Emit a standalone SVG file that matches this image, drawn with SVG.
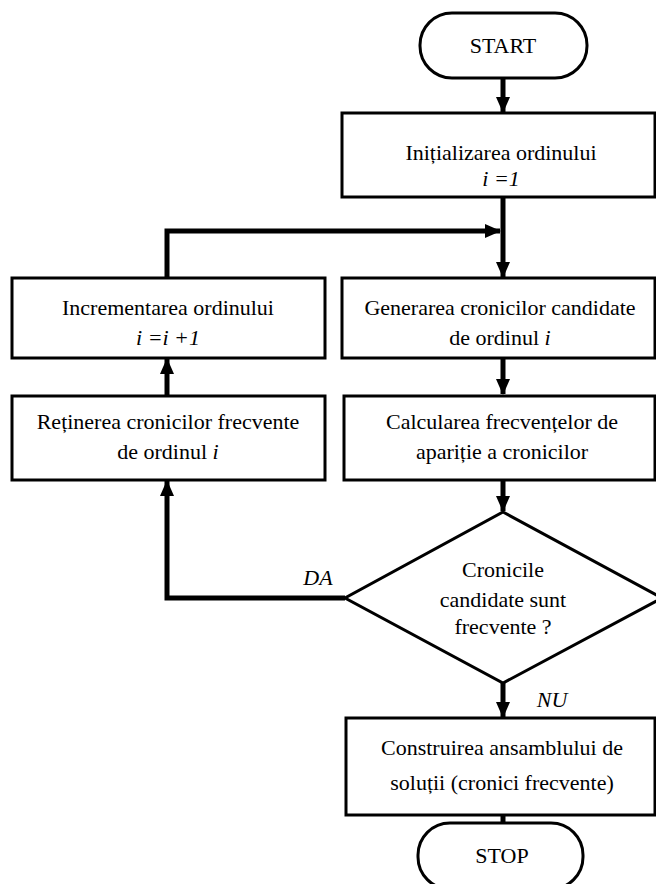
<svg xmlns="http://www.w3.org/2000/svg" width="656" height="884" viewBox="0 0 656 884">
<style>
.box{fill:#fff;stroke:#000;stroke-width:3}
.t{font-family:"Liberation Serif","Times New Roman",serif;font-size:22px;fill:#000;text-anchor:middle}
.i{font-style:italic}
.c{fill:none;stroke:#000;stroke-width:5}
</style>
<defs>
<marker id="ah" markerUnits="userSpaceOnUse" markerWidth="16" markerHeight="16" viewBox="0 0 16 16" refX="15" refY="8" orient="auto">
<path d="M0,1 L16,8 L0,15 Z" fill="#000"/>
</marker>
</defs>
<g id="connectors">
<line class="c" x1="503" y1="79" x2="503" y2="112" marker-end="url(#ah)"/>
<line class="c" x1="503" y1="198" x2="503" y2="277" marker-end="url(#ah)"/>
<polyline class="c" points="167,277 167,231 500,231" marker-end="url(#ah)"/>
<line class="c" x1="503" y1="358" x2="503" y2="394" marker-end="url(#ah)"/>
<line class="c" x1="167" y1="395" x2="167" y2="359" marker-end="url(#ah)"/>
<line class="c" x1="503" y1="480" x2="503" y2="511" marker-end="url(#ah)"/>
<polyline class="c" points="345,598 167,598 167,481" marker-end="url(#ah)"/>
<line class="c" x1="503" y1="683" x2="503" y2="717" marker-end="url(#ah)"/>
<line class="c" x1="503" y1="815" x2="503" y2="823"/>
<text class="t i" x="318" y="585">DA</text>
<text class="t i" x="552" y="707">NU</text>
</g>
<g id="start">
<rect class="box" x="420" y="13" width="167" height="65" rx="32" ry="32"/>
<text class="t" x="503" y="53">START</text>
</g>
<g id="init">
<rect class="box" x="342" y="113" width="313" height="84"/>
<text class="t" x="501" y="160">Inițializarea ordinului</text>
<text class="t i" x="501" y="186">i =1</text>
</g>
<g id="increment">
<rect class="box" x="12" y="278" width="313" height="80"/>
<text class="t" x="168" y="315">Incrementarea ordinului</text>
<text class="t i" x="168" y="345">i =i +1</text>
</g>
<g id="generate">
<rect class="box" x="342" y="278" width="313" height="80"/>
<text class="t" x="500" y="315">Generarea cronicilor candidate</text>
<text class="t" x="500" y="345">de ordinul <tspan class="i">i</tspan></text>
</g>
<g id="retain">
<rect class="box" x="12" y="396" width="313" height="84"/>
<text class="t" x="168" y="429">Reținerea cronicilor frecvente</text>
<text class="t" x="168" y="459">de ordinul <tspan class="i">i</tspan></text>
</g>
<g id="compute">
<rect class="box" x="344" y="396" width="311" height="84"/>
<text class="t" x="502" y="429">Calcularea frecvențelor de</text>
<text class="t" x="502" y="459">apariție a cronicilor</text>
</g>
<g id="decision">
<polygon class="box" points="503,512 662,598 503,683 345,598"/>
<text class="t" x="503" y="577">Cronicile</text>
<text class="t" x="503" y="607">candidate sunt</text>
<text class="t" x="503" y="634">frecvente ?</text>
</g>
<g id="build">
<rect class="box" x="346" y="718" width="309" height="97"/>
<text class="t" x="502" y="755">Construirea ansamblului de</text>
<text class="t" x="502" y="790">soluții (cronici frecvente)</text>
</g>
<g id="stop">
<rect class="box" x="418" y="823" width="165" height="66" rx="32" ry="32"/>
<text class="t" x="502" y="863">STOP</text>
</g>
</svg>
